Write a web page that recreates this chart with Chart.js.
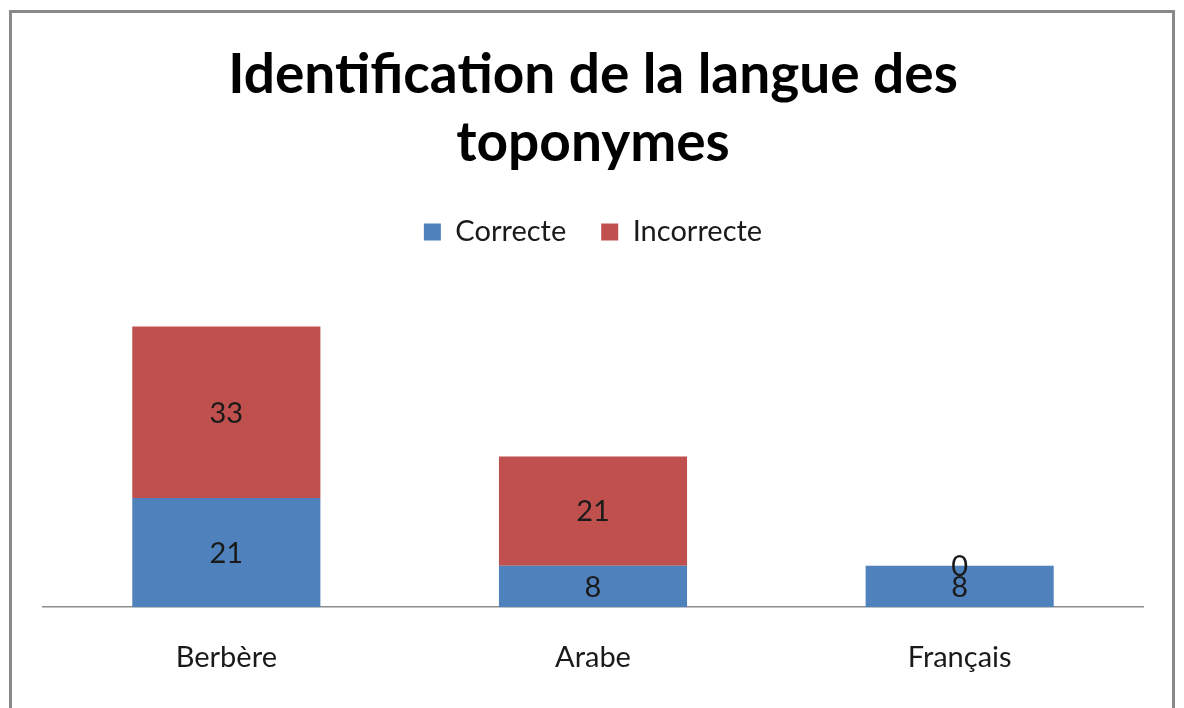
<!DOCTYPE html>
<html>
<head>
<meta charset="utf-8">
<script src="https://cdn.jsdelivr.net/npm/chart.js@4/dist/chart.umd.min.js"></script>
<style>
  html, body { margin: 0; padding: 0; background: #fff; }
  #wrap { width: 1184px; height: 708px; }
</style>
</head>
<body>
<div id="wrap"><canvas id="chart" width="1184" height="708"></canvas></div>
<script>
// data
const categories = ["Berbère", "Arabe", "Français"];
const correcte = [21, 8, 8];
const incorrecte = [33, 21, 0];
const titleLines = ["Identification de la langue des", "toponymes"];

const fontFam = "Lato, 'Open Sans', sans-serif";

// frame around the chart (open at the bottom)
const framePlugin = {
  id: "frame",
  beforeDraw(chart) {
    const ctx = chart.ctx;
    ctx.save();
    ctx.fillStyle = "#fff";
    ctx.fillRect(0, 0, chart.width, chart.height);
    ctx.strokeStyle = "#8a8a8a";
    ctx.lineWidth = 3;
    ctx.beginPath();
    ctx.moveTo(10.5, 708);
    ctx.lineTo(10.5, 11.5);
    ctx.lineTo(1173.5, 11.5);
    ctx.lineTo(1173.5, 708);
    ctx.stroke();
    ctx.restore();
  }
};

// value labels in the middle of each segment
const valueLabels = {
  id: "valueLabels",
  afterDatasetsDraw(chart) {
    const ctx = chart.ctx;
    ctx.save();
    ctx.font = "29px " + fontFam;
    ctx.fillStyle = "#1a1a1a";
    ctx.textAlign = "center";
    ctx.textBaseline = "middle";
    chart.data.datasets.forEach((ds, i) => {
      chart.getDatasetMeta(i).data.forEach((bar, j) => {
        const y = (bar.y + bar.base) / 2 + 1;
        ctx.fillText(String(ds.data[j]), bar.x, y);
      });
    });
    ctx.restore();
  }
};

// extra room under the legend
const legendGap = {
  id: "legendGap",
  beforeInit(chart) {
    const fit = chart.legend.fit;
    chart.legend.fit = function () {
      fit.bind(chart.legend)();
      this.height += 39;
    };
  }
};

new Chart(document.getElementById("chart"), {
  type: "bar",
  data: {
    labels: categories,
    datasets: [
      { label: "Correcte", data: correcte, backgroundColor: "#4F81BD" },
      { label: "Incorrecte", data: incorrecte, backgroundColor: "#C0504D" }
    ]
  },
  options: {
    responsive: false,
    animation: false,
    layout: { padding: { left: 43, right: 41, top: 0, bottom: 0 } },
    datasets: { bar: { barPercentage: 0.513, categoryPercentage: 1 } },
    scales: {
      x: {
        stacked: true,
        grid: { display: false, drawTicks: false },
        border: { display: true, color: "#8c8c8c", width: 1.5 },
        ticks: { color: "#1a1a1a", padding: 33, font: { family: fontFam, size: 29 } }
      },
      y: {
        stacked: true,
        display: false,
        min: 0,
        max: 60
      }
    },
    plugins: {
      title: {
        display: true,
        text: titleLines,
        color: "#000",
        font: { family: fontFam, size: 55, weight: "bold", lineHeight: 1.24 },
        padding: { top: 41, bottom: 5 }
      },
      legend: {
        position: "top",
        labels: {
          color: "#1a1a1a",
          font: { family: fontFam, size: 29 },
          boxWidth: 17,
          boxHeight: 17,
          padding: 35
        }
      },
      tooltip: { enabled: false }
    }
  },
  plugins: [framePlugin, valueLabels, legendGap]
});
</script>
</body>
</html>
